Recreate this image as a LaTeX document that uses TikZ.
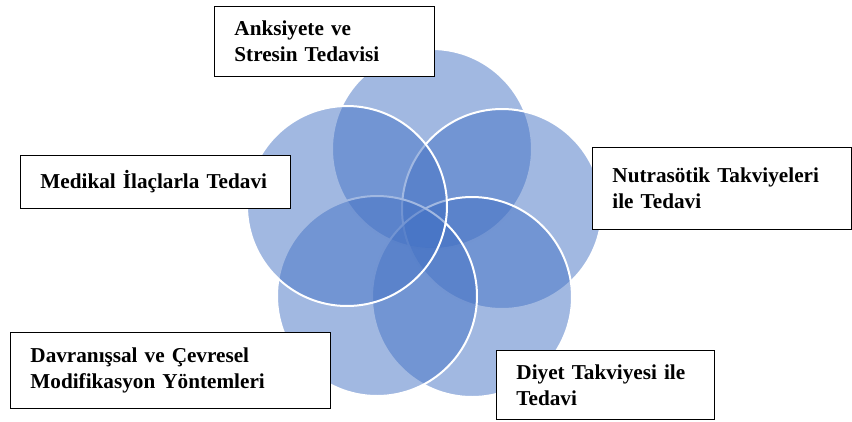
\documentclass[tikz,border=0pt]{standalone}
\usepackage{fontspec}
\setmainfont{Liberation Serif}
\definecolor{petalblue}{HTML}{4472C4}

\begin{document}
\begin{tikzpicture}[x=1pt, y=-1pt,
	petal/.style={circle, minimum size=200pt, inner sep=0pt, fill=petalblue, fill opacity=0.5, draw=white, line width=2pt},
	label box/.style={draw=black, line width=0.9pt, fill=white, anchor=north west, inner xsep=20pt, inner ysep=0pt, align=left, font=\fontsize{21.2}{26}\selectfont\bfseries}]

\useasboundingbox (0,0) rectangle (852,421);

\foreach \name/\x/\y in {top/432/149, right/502/209, botright/472/297, botleft/377/296, left/347/206}{
	\node[petal] (\name) at (\x, \y) {};
}

\node[label box, text width=180pt, minimum height=70pt] (anx) at (214, 6) {Anksiyete ve\\Stresin Tedavisi};
\node[label box, text width=219pt, minimum height=82pt] (nut) at (592, 147) {Nutrasötik Takviyeleri\\ile Tedavi};
\node[label box, text width=230pt, minimum height=53pt] (med) at (20, 155) {Medikal İlaçlarla Tedavi};
\node[label box, text width=280pt, minimum height=76pt] (dav) at (10, 332) {Davranışsal ve Çevresel\\Modifikasyon Yöntemleri};
\node[label box, text width=178pt, minimum height=69pt] (diy) at (496, 350) {Diyet Takviyesi ile\\Tedavi};

\end{tikzpicture}
\end{document}
